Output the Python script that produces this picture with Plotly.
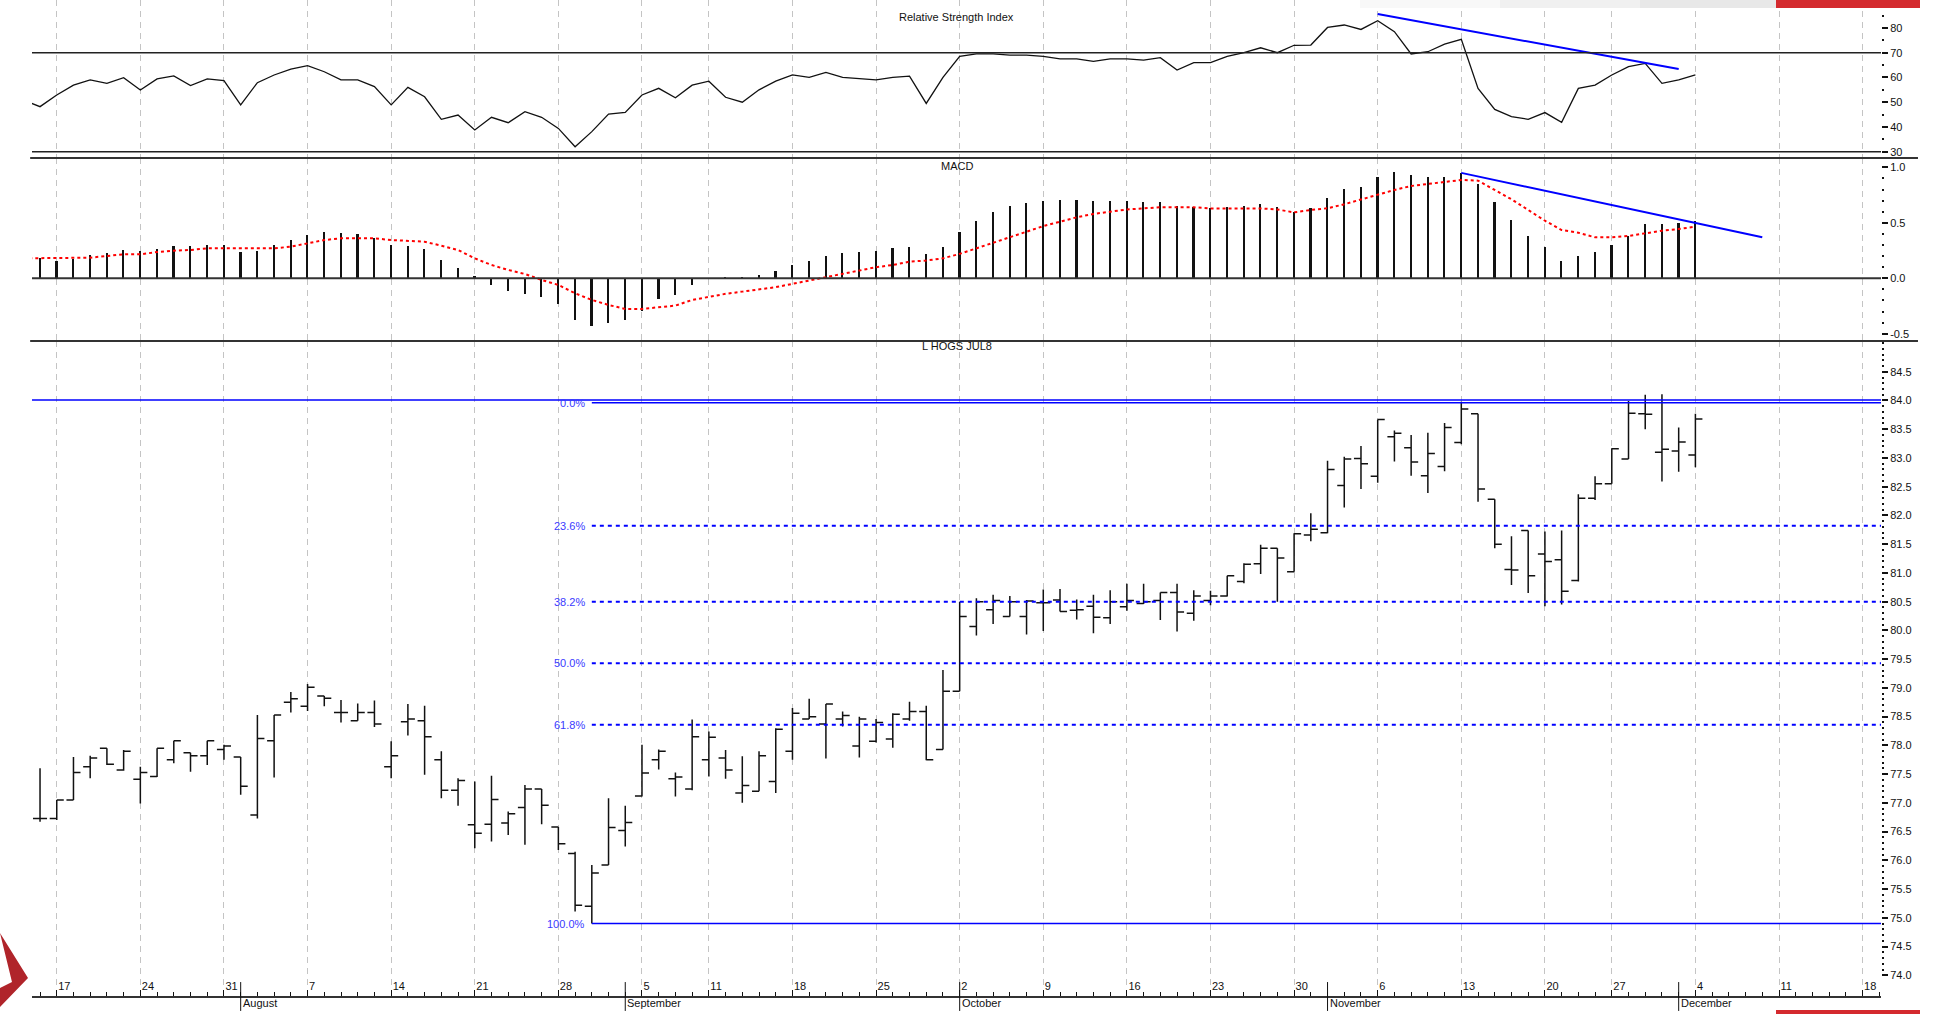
import pandas as pd
import plotly.graph_objects as go
from plotly.subplots import make_subplots

FONT = "Liberation Sans Narrow, Arial Narrow, Liberation Sans, Arial, sans-serif"

# trading calendar (Jul 13 only feeds the lead-in of the indicator lines)
holidays = ["2017-09-04", "2017-11-23"]
days = [d for d in pd.bdate_range("2017-07-13", "2017-12-19") if d.strftime("%Y-%m-%d") not in holidays]
pos = {d.strftime("%Y-%m-%d"): i - 1 for i, d in enumerate(days)}

bar_days = [d.strftime("%Y-%m-%d") for d in days if "2017-07-14" <= d.strftime("%Y-%m-%d") <= "2017-12-04"]
line_days = [d.strftime("%Y-%m-%d") for d in days if d.strftime("%Y-%m-%d") <= "2017-12-04"]

# L HOGS JUL8 daily bars
price_open = [76.73, 76.73, 77.05, 77.63, 77.95, 77.57, 77.41, 77.46, 77.75, 77.87,
              77.82, 77.93, 77.80, 76.79, 78.08, 78.75, 78.68, 78.86, 78.57, 78.43,
              78.57, 77.63, 78.41, 78.43, 77.75, 77.22, 76.62, 76.63, 76.65, 76.92,
              77.24, 76.58, 76.12, 75.20, 75.92, 76.52, 77.12, 77.75, 77.42, 77.24,
              77.75, 77.78, 77.17, 77.20, 77.37, 77.90, 78.46, 78.37, 78.46, 77.99,
              78.07, 78.11, 78.46, 78.59, 77.93, 78.94, 80.07, 80.36, 80.24, 80.24,
              80.48, 80.53, 80.35, 80.42, 80.22, 80.41, 80.47, 80.52, 80.66, 80.30,
              80.52, 80.60, 80.85, 81.16, 81.43, 81.02, 81.66, 81.70, 82.52, 82.99,
              82.68, 83.37, 83.18, 82.69, 82.85, 83.27, 83.77, 82.28, 81.06, 81.74,
              81.33, 81.23, 80.87, 82.30, 82.55, 82.98, 83.77, 83.10, 83.12, 83.05]
price_high = [77.60, 77.05, 77.80, 77.82, 77.95, 77.92, 77.63, 77.95, 78.08, 77.87,
              78.08, 78.01, 77.80, 78.53, 78.53, 78.93, 79.07, 78.86, 78.79, 78.73,
              78.78, 78.07, 78.72, 78.69, 77.90, 77.43, 77.37, 77.47, 76.85, 77.31,
              77.24, 76.58, 76.15, 75.92, 77.08, 76.95, 78.01, 77.93, 77.53, 78.45,
              78.24, 77.92, 77.81, 77.90, 78.30, 78.65, 78.81, 78.72, 78.59, 78.50,
              78.46, 78.56, 78.76, 78.69, 79.31, 80.50, 80.56, 80.62, 80.60, 80.53,
              80.71, 80.72, 80.54, 80.62, 80.70, 80.81, 80.81, 80.66, 80.81, 80.70,
              80.69, 80.95, 81.17, 81.49, 81.43, 81.69, 82.04, 82.95, 83.02, 83.21,
              83.67, 83.48, 83.40, 83.44, 83.61, 83.98, 83.77, 82.28, 81.64, 81.74,
              81.72, 81.74, 82.37, 82.68, 83.17, 83.99, 84.10, 84.11, 83.53, 83.77]
price_low = [76.67, 76.70, 77.05, 77.43, 77.66, 77.56, 76.99, 77.45, 77.69, 77.54,
             77.66, 77.75, 77.14, 76.73, 77.44, 78.57, 78.60, 78.68, 78.40, 78.43,
             78.32, 77.43, 78.17, 77.49, 77.08, 76.95, 76.21, 76.33, 76.44, 76.27,
             76.63, 76.18, 75.11, 74.90, 75.92, 76.24, 77.11, 77.58, 77.11, 77.22,
             77.46, 77.42, 77.00, 77.20, 77.17, 77.75, 78.46, 77.77, 78.33, 77.79,
             78.05, 77.96, 78.43, 77.74, 77.93, 78.94, 79.91, 80.11, 80.24, 79.93,
             79.99, 80.33, 80.19, 79.95, 80.11, 80.34, 80.46, 80.18, 79.98, 80.17,
             80.44, 80.59, 80.82, 80.98, 80.50, 81.02, 81.55, 81.69, 82.14, 82.46,
             82.57, 82.94, 82.69, 82.39, 82.77, 83.24, 82.24, 81.43, 80.79, 80.65,
             80.42, 80.45, 80.85, 82.27, 82.55, 82.98, 83.50, 82.59, 82.76, 82.84]
price_close = [76.73, 77.05, 77.53, 77.78, 77.67, 77.90, 77.53, 77.95, 78.08, 77.82,
               78.08, 77.99, 77.29, 78.12, 78.53, 78.81, 79.01, 78.82, 78.57, 78.57,
               78.37, 77.82, 78.46, 78.15, 77.22, 77.39, 76.47, 77.06, 76.81, 77.24,
               76.96, 76.29, 75.22, 75.78, 76.57, 76.66, 77.52, 77.90, 77.45, 78.15,
               78.14, 77.57, 77.30, 77.82, 78.28, 78.56, 78.50, 78.72, 78.52, 78.46,
               78.40, 78.54, 78.59, 77.75, 78.94, 80.24, 80.50, 80.52, 80.50, 80.51,
               80.48, 80.33, 80.36, 80.23, 80.50, 80.52, 80.50, 80.66, 80.32, 80.60,
               80.60, 80.95, 81.15, 81.43, 81.26, 81.68, 81.76, 82.80, 82.98, 82.90,
               83.67, 83.43, 82.93, 83.08, 83.53, 83.85, 82.46, 81.50, 81.05, 80.95,
               81.20, 80.68, 82.30, 82.55, 83.16, 83.78, 83.76, 83.15, 83.28, 83.68]

# Relative Strength Index (from Jul 13)
rsi = [50.9, 48.2, 52.9, 56.9, 59.0, 57.6, 59.9, 54.9, 59.4, 60.6, 56.7,
       59.4, 58.7, 48.9, 57.9, 61.0, 63.4, 64.8, 62.3, 59.0, 59.0,
       56.3, 48.9, 56.0, 52.2, 43.1, 44.8, 38.8, 43.9, 41.7, 46.2,
       43.9, 39.4, 32.0, 38.1, 45.2, 45.9, 52.9, 55.6, 51.8, 56.9,
       58.5, 52.0, 50.0, 55.0, 58.5, 61.0, 60.0, 62.0, 60.0, 59.5,
       59.0, 60.0, 60.5, 49.5, 60.0, 68.5, 69.5, 69.5, 69.0, 69.0,
       68.5, 67.5, 67.5, 66.5, 67.5, 67.5, 67.0, 68.0, 63.0, 66.0,
       66.0, 68.5, 70.0, 72.0, 70.0, 73.0,
       73.1, 80.2, 81.2, 79.4, 82.9, 78.5, 69.5, 70.4, 73.5, 75.4,
       55.6, 47.1, 44.2, 43.1, 45.8, 41.9, 55.6, 56.9, 61.0, 64.4,
       65.7, 57.6, 59.0, 61.0]

# MACD line (drawn as histogram, from Jul 14) and signal (from Jul 13)
macd = [0.180, 0.159, 0.174, 0.210, 0.225, 0.255, 0.249, 0.264, 0.291, 0.291,
        0.303, 0.300, 0.240, 0.249, 0.303, 0.345, 0.393, 0.420, 0.411, 0.399,
        0.360, 0.303, 0.291, 0.264, 0.165, 0.096, 0.020, -0.060, -0.114, -0.141,
        -0.165, -0.231, -0.375, -0.426, -0.399, -0.375, -0.294, -0.189, -0.150, -0.060,
        0.000, 0.010, 0.010, 0.030, 0.070, 0.120, 0.160, 0.200, 0.230, 0.240,
        0.250, 0.270, 0.280, 0.220, 0.280, 0.420, 0.520, 0.600, 0.650, 0.680,
        0.700, 0.710, 0.710, 0.700, 0.700, 0.700, 0.690, 0.690, 0.650, 0.640,
        0.630, 0.640, 0.650, 0.670, 0.640, 0.600, 0.631, 0.721, 0.802, 0.826,
        0.916, 0.955, 0.931, 0.916, 0.916, 0.946, 0.850, 0.691, 0.525, 0.381,
        0.279, 0.159, 0.201, 0.240, 0.300, 0.381, 0.486, 0.486, 0.501, 0.519]
signal = [0.180, 0.180, 0.180, 0.180, 0.186, 0.201, 0.216, 0.216, 0.237, 0.249, 0.255,
          0.270, 0.270, 0.270, 0.270, 0.270, 0.285, 0.315, 0.345, 0.360, 0.360,
          0.360, 0.345, 0.339, 0.330, 0.294, 0.255, 0.180, 0.120, 0.075, 0.039,
          -0.015, -0.060, -0.135, -0.195, -0.240, -0.276, -0.276, -0.264, -0.246, -0.195,
          -0.165, -0.140, -0.120, -0.100, -0.080, -0.050, -0.020, 0.010, 0.040, 0.070,
          0.100, 0.120, 0.150, 0.160, 0.180, 0.220, 0.270, 0.320, 0.370, 0.420,
          0.470, 0.510, 0.550, 0.580, 0.600, 0.620, 0.630, 0.640, 0.640, 0.640,
          0.630, 0.630, 0.630, 0.630, 0.620, 0.594,
          0.616, 0.631, 0.667, 0.712, 0.757, 0.796, 0.832, 0.850, 0.862, 0.886,
          0.880, 0.796, 0.712, 0.616, 0.519, 0.435, 0.411, 0.369, 0.369, 0.381,
          0.405, 0.429, 0.444, 0.465]

# drawn studies
rsi_trend_days = ["2017-11-06", "2017-12-01"]
rsi_trend_vals = [85.6, 63.4]
macd_trend_days = ["2017-11-13", "2017-12-08"]
macd_trend_vals = [0.95, 0.37]
resistance = 84.01
fib_from_day = "2017-08-30"
fib_high = 83.96
fib_low = 74.90
fib_pcts = [0.0, 23.6, 38.2, 50.0, 61.8, 100.0]

price_ticks = [74.0 + 0.5 * k for k in range(22)]

X_END = 110.1
X_START = -0.48

week_ticks, week_text, month_x, month_text = [], [], [], []
for k in range(1, len(days)):
    d, p = days[k], days[k - 1]
    if d.weekday() < p.weekday():
        week_ticks.append(k - 1)
        week_text.append(str(d.day))
    if d.month != p.month:
        month_x.append(k - 1)
        month_text.append(d.strftime("%B"))

bx = [pos[d] for d in bar_days]
lx = [pos[d] for d in line_days]

fig = make_subplots(rows=3, cols=1, shared_xaxes=True, vertical_spacing=0,
                    row_heights=[158, 183, 655])

BLUE = "#0000ff"

fig.add_trace(go.Scatter(x=lx, y=rsi, mode="lines", line=dict(color="#111111", width=1.3),
                         hoverinfo="skip"), row=1, col=1)
fig.add_trace(go.Scatter(x=[pos[d] for d in rsi_trend_days], y=rsi_trend_vals, mode="lines",
                         line=dict(color=BLUE, width=2)), row=1, col=1)

fig.add_trace(go.Bar(x=bx, y=macd, width=0.1, marker=dict(color="#111111", line=dict(width=0))),
              row=2, col=1)
fig.add_trace(go.Scatter(x=lx, y=signal, mode="lines",
                         line=dict(color="#ff0000", width=2, dash="3px,3px")), row=2, col=1)
fig.add_trace(go.Scatter(x=[pos[d] for d in macd_trend_days], y=macd_trend_vals, mode="lines",
                         line=dict(color=BLUE, width=2)), row=2, col=1)

fig.add_trace(go.Ohlc(x=bx, open=price_open, high=price_high, low=price_low, close=price_close,
                      tickwidth=0.42,
                      increasing=dict(line=dict(color="#111111", width=1.5)),
                      decreasing=dict(line=dict(color="#111111", width=1.5))), row=3, col=1)

# fibonacci retracement from the Aug 30 low
fx = pos[fib_from_day]
for pct in fib_pcts:
    lvl = fib_high - (fib_high - fib_low) * pct / 100
    solid = pct in (0.0, 100.0)
    fig.add_trace(go.Scatter(x=[fx, X_END], y=[lvl, lvl], mode="lines",
                             line=dict(color=BLUE, width=1.5 if solid else 2,
                                       dash="solid" if solid else "4px,4px")),
                  row=3, col=1)
    fig.add_annotation(x=fx, y=lvl, xref="x3", yref="y3", text="%.1f%%" % pct,
                       showarrow=False, xanchor="right", yanchor="middle", xshift=-5,
                       font=dict(color="#3a3aff", size=11))
fig.add_trace(go.Scatter(x=[X_START, X_END], y=[resistance, resistance], mode="lines",
                         line=dict(color=BLUE, width=1.5)), row=3, col=1)

fig.add_hline(y=70, line=dict(color="#222222", width=1.5), row=1, col=1)
fig.add_hline(y=30, line=dict(color="#222222", width=1.5), row=1, col=1)
fig.add_hline(y=0, line=dict(color="#333333", width=2), row=2, col=1)

# panel separators
for yp in [838 / 996, 655 / 996]:
    fig.add_shape(type="line", xref="paper", yref="paper", x0=-0.001, x1=1.02, y0=yp, y1=yp,
                  line=dict(color="#333333", width=2))

# month boundaries on the time axis
for mx, mt in zip(month_x, month_text):
    fig.add_shape(type="line", xref="x3", yref="paper", x0=mx, x1=mx, y0=-0.015, y1=0.014,
                  line=dict(color="#111111", width=1))
    fig.add_annotation(x=mx, y=0, xref="x3", yref="paper", text=mt, showarrow=False,
                       xanchor="left", yanchor="top", xshift=0, yshift=1,
                       font=dict(size=11, color="#111111"))

# panel titles
for txt, yp in [("Relative Strength Index", 979 / 996), ("MACD", 830 / 996), ("L HOGS JUL8", 650 / 996)]:
    fig.add_annotation(x=0.5, y=yp, xref="paper", yref="paper", text=txt, showarrow=False,
                       xanchor="center", yanchor="middle", font=dict(size=11, color="#111111"))

# page furniture around the screenshot
for gx0, gx1, gc in [(1360, 1500, "#f8f8f8"), (1500, 1640, "#f0f0f0"), (1640, 1776, "#e8e8e8")]:
    fig.add_shape(type="rect", xref="paper", yref="paper", x0=(gx0 - 32) / 1849, x1=(gx1 - 32) / 1849,
                  y0=988 / 996, y1=1.0, line=dict(width=0), fillcolor=gc, layer="above")
fig.add_shape(type="rect", xref="paper", yref="paper", x0=(1776 - 32) / 1849, x1=(1920 - 32) / 1849,
              y0=988 / 996, y1=1.0, line=dict(width=0), fillcolor="#d42a2e", layer="above")
fig.add_shape(type="rect", xref="paper", yref="paper", x0=(1776 - 32) / 1849, x1=(1920 - 32) / 1849,
              y0=-18 / 996, y1=-14 / 996, line=dict(width=0), fillcolor="#d42a2e", layer="above")
fig.add_shape(type="path", xref="paper", yref="paper",
              path="M %f %f L %f %f L %f %f L %f %f L %f %f Z" % (
                  -32 / 1849, -11 / 996, -4 / 1849, 18 / 996, -32 / 1849, 63 / 996,
                  -20 / 1849, 14 / 996, -32 / 1849, 8 / 996),
              line=dict(width=0), fillcolor="#b0242a", layer="above")

grid = dict(showgrid=True, gridcolor="#c4c4c4", griddash="6px,5px", gridwidth=1,
            tickmode="array", tickvals=week_ticks, zeroline=False)
fig.update_xaxes(range=[X_START, X_END], showline=False, **grid)
fig.update_xaxes(showticklabels=False, ticks="", row=1, col=1)
fig.update_xaxes(showticklabels=False, ticks="", row=2, col=1)
fig.update_xaxes(row=3, col=1, ticktext=week_text, ticks="inside", ticklen=6, tickcolor="#111111",
                 ticklabelposition="inside right", showticklabels=True,
                 showline=True, linecolor="#333333", linewidth=2,
                 tickfont=dict(size=11, color="#111111"),
                 minor=dict(tickmode="linear", tick0=0, dtick=1, ticks="inside", ticklen=4,
                            tickcolor="#111111", showgrid=False),
                 rangeslider=dict(visible=False))

yax = dict(side="right", showgrid=False, zeroline=False, ticks="outside", ticklen=6,
           tickwidth=1.5, tickcolor="#111111", tickfont=dict(size=11, color="#111111"),
           showline=False)
fig.update_yaxes(row=1, col=1, range=[27.45, 91.3], tickmode="array",
                 tickvals=[30, 40, 50, 60, 70, 80],
                 minor=dict(tickmode="linear", tick0=0, dtick=5, ticks="outside", ticklen=2,
                            tickcolor="#111111"), **yax)
fig.update_yaxes(row=2, col=1, range=[-0.565, 1.084], tickmode="array",
                 tickvals=[-0.5, 0.0, 0.5, 1.0], ticktext=["-0.5", "0.0", "0.5", "1.0"],
                 minor=dict(tickmode="linear", tick0=0, dtick=0.1, ticks="outside", ticklen=2,
                            tickcolor="#111111"), **yax)
fig.update_yaxes(row=3, col=1, range=[73.64, 85.035], tickmode="array", tickvals=price_ticks,
                 tickformat=".1f",
                 minor=dict(tickmode="linear", tick0=74, dtick=0.1, ticks="outside", ticklen=2,
                            tickcolor="#111111"), **yax)

fig.update_layout(width=1938, height=1014, margin=dict(l=32, r=57, t=0, b=18),
                  paper_bgcolor="white", plot_bgcolor="white", showlegend=False,
                  bargap=0, font=dict(family=FONT, size=11, color="#111111"))

fig.write_html("out.html", config={"displayModeBar": False},
               post_script="document.body.style.margin='0px';")
